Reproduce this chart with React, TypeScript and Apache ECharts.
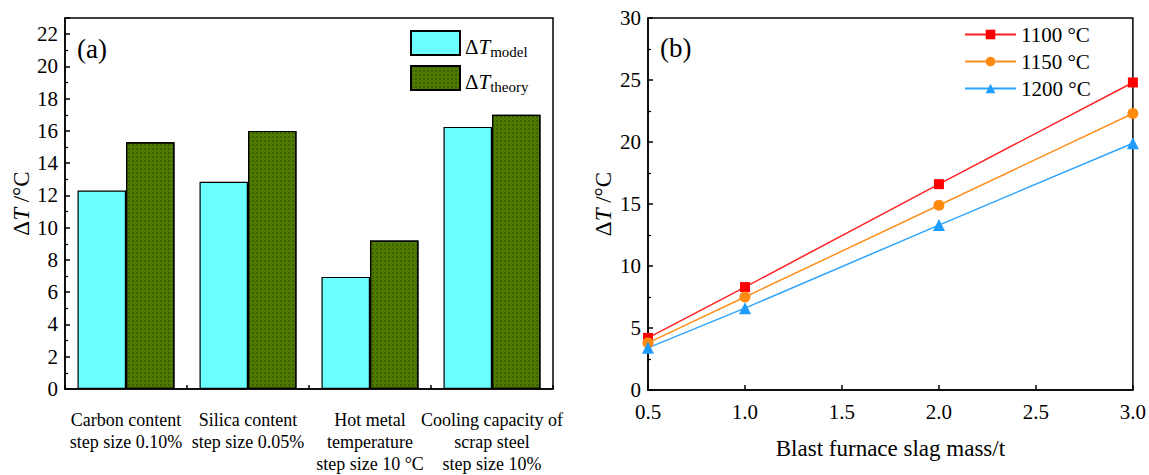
import React, { useEffect, useRef } from "react";
import * as echarts from "echarts";

const categories = [
  "Carbon content\nstep size 0.10%",
  "Silica content\nstep size 0.05%",
  "Hot metal\ntemperature\nstep size 10 °C",
  "Cooling capacity of\nscrap steel\nstep size 10%",
];
const modelValues = [12.3, 12.85, 6.95, 16.25];
const theoryValues = [15.3, 16.0, 9.2, 17.0];

const slagMass = [0.5, 1.0, 2.0, 3.0];
const t1100 = [4.2, 8.3, 16.6, 24.8];
const t1150 = [3.8, 7.5, 14.9, 22.3];
const t1200 = [3.4, 6.6, 13.3, 19.9];

const FF = "Liberation Serif";

export default function App() {
  const ref = useRef<HTMLDivElement>(null);
  useEffect(() => {
    if (!ref.current) return;
    const chart = echarts.init(ref.current, null, { renderer: "svg" });
    const axisLine = { show: true, lineStyle: { color: "#000", width: 1.5 } };
    const yName = {
      rich: {
        n: { fontFamily: FF, fontSize: 23, color: "#000" },
        i: { fontFamily: FF, fontSize: 23, color: "#000", fontStyle: "italic" },
      },
    };
    chart.setOption({
      animation: false,
      textStyle: { fontFamily: FF, color: "#000" },
      grid: [
        { left: 65, top: 18, width: 488, height: 372, show: true, borderColor: "#000", borderWidth: 1.5, containLabel: false },
        { left: 648, top: 18, width: 485, height: 372, show: true, borderColor: "#000", borderWidth: 1.5, containLabel: false },
      ],
      xAxis: [
        {
          type: "category",
          gridIndex: 0,
          data: categories,
          axisLine,
          axisTick: { show: true, inside: true, length: 4, lineStyle: { color: "#000", width: 1.5 } },
          axisLabel: { interval: 0, fontFamily: FF, fontSize: 18, color: "#000", lineHeight: 22, margin: 20 },
        },
        {
          type: "value",
          gridIndex: 1,
          min: 0.5,
          max: 3.0,
          interval: 0.5,
          splitLine: { show: false },
          axisLine,
          axisTick: { show: true, inside: true, length: 5, lineStyle: { color: "#000", width: 1.5 } },
          axisLabel: {
            fontFamily: FF, fontSize: 21, color: "#000", margin: 11,
            formatter: (v: number) => v.toFixed(1),
          },
          name: "Blast furnace slag mass/t",
          nameLocation: "middle",
          nameGap: 47,
          nameTextStyle: { fontFamily: FF, fontSize: 23, color: "#000" },
        },
      ],
      yAxis: [
        {
          type: "value",
          gridIndex: 0,
          min: 0,
          max: 23,
          interval: 2,
          splitLine: { show: false },
          axisLine,
          axisTick: { show: true, inside: true, length: 5, lineStyle: { color: "#000", width: 1.5 } },
          minorTick: { show: true, splitNumber: 2, length: 3, lineStyle: { color: "#000", width: 1.2 } },
          axisLabel: {
            fontFamily: FF, fontSize: 21, color: "#000", margin: 7,
            formatter: (v: number) => (v > 22 ? "" : String(v)),
          },
          name: "{n|Δ}{i|T}{n| /°C}",
          nameLocation: "middle",
          nameGap: 30,
          nameTextStyle: yName,
        },
        {
          type: "value",
          gridIndex: 1,
          min: 0,
          max: 30,
          interval: 5,
          splitLine: { show: false },
          axisLine,
          axisTick: { show: true, inside: true, length: 5, lineStyle: { color: "#000", width: 1.5 } },
          minorTick: { show: true, splitNumber: 2, length: 3, lineStyle: { color: "#000", width: 1.2 } },
          axisLabel: { fontFamily: FF, fontSize: 21, color: "#000", margin: 7 },
          name: "{n|Δ}{i|T}{n| /°C}",
          nameLocation: "middle",
          nameGap: 33,
          nameTextStyle: yName,
        },
      ],
      legend: [
        {
          data: ["model", "theory"],
          orient: "vertical",
          left: 410,
          top: 27,
          padding: 0,
          itemWidth: 49,
          itemHeight: 24,
          itemGap: 3,
          icon: "rect",
          formatter: (n: string) => `{d|Δ}{t|T}{s|${n}}`,
          textStyle: {
            rich: {
              d: { fontFamily: FF, fontSize: 21, color: "#000", lineHeight: 24, padding: [8, 0, 0, 0] },
              t: { fontFamily: FF, fontSize: 21, color: "#000", fontStyle: "italic", lineHeight: 24, padding: [8, 0, 0, 0] },
              s: { fontFamily: FF, fontSize: 15, color: "#000", lineHeight: 15, padding: [17, 0, 0, 0] },
            },
          },
        },
        {
          data: ["1100 °C", "1150 °C", "1200 °C"],
          orient: "vertical",
          left: 964,
          top: 24,
          padding: 0,
          itemWidth: 51,
          itemHeight: 12,
          itemGap: 6,
          textStyle: { fontFamily: FF, fontSize: 21, color: "#000" },
        },
      ],
      graphic: [
        { type: "text", left: 77, top: 35, style: { text: "(a)", fontFamily: FF, fontSize: 27, fill: "#000" } },
        { type: "text", left: 660, top: 34, style: { text: "(b)", fontFamily: FF, fontSize: 27, fill: "#000" } },
      ],
      series: [
        {
          name: "model",
          type: "bar",
          xAxisIndex: 0,
          yAxisIndex: 0,
          data: modelValues,
          barGap: "0%",
          barCategoryGap: "20.5%",
          itemStyle: { color: "#6cffff", borderColor: "#000", borderWidth: 1.2 },
        },
        {
          name: "theory",
          type: "bar",
          xAxisIndex: 0,
          yAxisIndex: 0,
          data: theoryValues,
          barGap: "0%",
          barCategoryGap: "20.5%",
          itemStyle: {
            color: "#4f7a00",
            borderColor: "#000",
            borderWidth: 1.2,
            decal: {
              symbol: "rect",
              symbolSize: 0.55,
              color: "rgba(0,0,0,0.8)",
              dashArrayX: [2, 2],
              dashArrayY: [2, 2],
            },
          },
        },
        {
          name: "1100 °C",
          type: "line",
          xAxisIndex: 1,
          yAxisIndex: 1,
          data: slagMass.map((x, i) => [x, t1100[i]]),
          symbol: "rect",
          symbolSize: 10,
          lineStyle: { color: "#ff2222", width: 1.5 },
          itemStyle: { color: "#ff0000" },
        },
        {
          name: "1150 °C",
          type: "line",
          xAxisIndex: 1,
          yAxisIndex: 1,
          data: slagMass.map((x, i) => [x, t1150[i]]),
          symbol: "circle",
          symbolSize: 11,
          lineStyle: { color: "#ff9020", width: 1.5 },
          itemStyle: { color: "#ff8a10" },
        },
        {
          name: "1200 °C",
          type: "line",
          xAxisIndex: 1,
          yAxisIndex: 1,
          data: slagMass.map((x, i) => [x, t1200[i]]),
          symbol: "triangle",
          symbolSize: 12,
          lineStyle: { color: "#2ea4ff", width: 1.5 },
          itemStyle: { color: "#1e9cff" },
        },
      ],
    });
    return () => chart.dispose();
  }, []);
  return (
    <div
      ref={ref}
      style={{ position: "fixed", left: 0, top: 0, width: 1149, height: 475, background: "#fff" }}
    />
  );
}
